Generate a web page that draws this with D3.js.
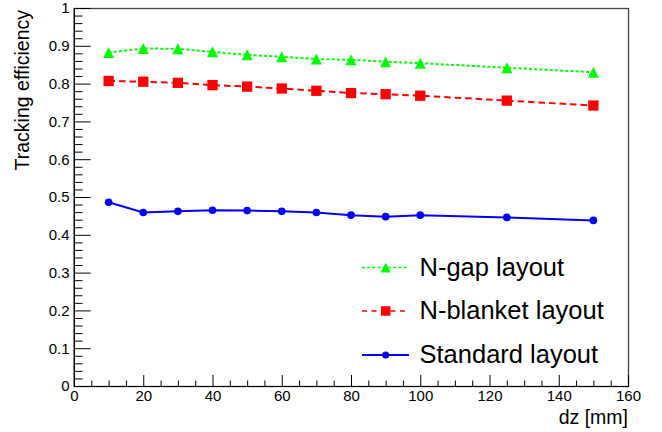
<!DOCTYPE html>
<html>
<head>
<meta charset="utf-8">
<script src="https://cdn.jsdelivr.net/npm/d3@7"></script>
<style>
  html, body { margin: 0; padding: 0; background: #fff; }
  svg { display: block; }
  text { font-family: "Liberation Sans", Arial, Helvetica, sans-serif; }
</style>
</head>
<body>
<svg id="chart" width="662" height="432"></svg>
<script>
// ---------- data ----------
const dz = [10, 20, 30, 40, 50, 60, 70, 80, 90, 100, 125, 150];
const nGap = [0.882, 0.893, 0.892, 0.884, 0.876, 0.871, 0.865, 0.863, 0.858, 0.854, 0.842, 0.830];
const nBlanket = [0.807, 0.805, 0.802, 0.796, 0.792, 0.787, 0.781, 0.775, 0.772, 0.768, 0.755, 0.742];
const standard = [0.486, 0.459, 0.462, 0.465, 0.464, 0.462, 0.459, 0.452, 0.448, 0.452, 0.446, 0.438];
const xTicks = [0, 20, 40, 60, 80, 100, 120, 140, 160];
const yTicks = [0, 0.1, 0.2, 0.3, 0.4, 0.5, 0.6, 0.7, 0.8, 0.9, 1];
const seriesNames = ["N-gap layout", "N-blanket layout", "Standard layout"];
const xTitle = "dz [mm]";
const yTitle = "Tracking efficiency";

// ---------- layout ----------
const L = 74, R = 628, T = 8, B = 386;
const svg = d3.select("#chart");
const x = d3.scaleLinear().domain([0, 160]).range([L, R]);
const y = d3.scaleLinear().domain([0, 1]).range([B, T]);

// frame (top/right)
svg.append("rect").attr("x", L).attr("y", T + 0.5).attr("width", R - L + 0.5).attr("height", B - T)
  .attr("fill", "none").attr("stroke", "#444").attr("stroke-width", 1.3);

// minor ticks
const xMinor = d3.range(0, 161, 5).filter(v => v % 20 !== 0);
const yMinor = d3.range(0, 51, 1).map(v => v / 50).filter((v, i) => i % 5 !== 0);

svg.append("g").attr("transform", `translate(0,${B})`)
  .call(d3.axisBottom(x).tickValues(xMinor).tickFormat("").tickSizeInner(-5.5).tickSizeOuter(0))
  .call(g => g.select(".domain").remove());
svg.append("g").attr("transform", `translate(${L},0)`)
  .call(d3.axisLeft(y).tickValues(yMinor).tickFormat("").tickSizeInner(-8.5).tickSizeOuter(0))
  .call(g => g.select(".domain").remove());

// major axes
const xAxis = svg.append("g").attr("transform", `translate(0,${B})`)
  .call(d3.axisBottom(x).tickValues(xTicks).tickFormat(d3.format("d")).tickSizeInner(-11).tickSizeOuter(0).tickPadding(4.5));
const yAxis = svg.append("g").attr("transform", `translate(${L},0)`)
  .call(d3.axisLeft(y).tickValues(yTicks).tickFormat(d => d === 0 ? "0" : d === 1 ? "1" : d3.format(".1f")(d)).tickSizeInner(-16.6).tickSizeOuter(0).tickPadding(4.5));
[xAxis, yAxis].forEach(g => {
  g.attr("font-family", null);
  g.selectAll("text").attr("font-size", 15).attr("fill", "#000");
  g.selectAll("line").attr("stroke", "#000");
  g.select(".domain").attr("stroke", "#000");
});

// titles
svg.append("text").attr("x", R).attr("y", 424).attr("text-anchor", "end")
  .attr("font-size", 19.5).text(xTitle);
svg.append("text").attr("transform", `translate(29,${T + 2}) rotate(-90)`).attr("text-anchor", "end")
  .attr("font-size", 19.5).text(yTitle);

// ---------- series ----------
// isosceles triangle with equal base and height (ROOT style)
const rootTriangle = {
  draw(ctx, size) {
    const s = Math.sqrt(size), h = s / 2;
    ctx.moveTo(0, -h);
    ctx.lineTo(h, h);
    ctx.lineTo(-h, h);
    ctx.closePath();
  }
};

const series = [
  { name: seriesNames[0], vals: nGap, color: "#00ff00", dash: "3,2.2", sym: rootTriangle, size: 121, ldash: "3,2.2" },
  { name: seriesNames[1], vals: nBlanket, color: "#ff0000", dash: "6.5,4", sym: d3.symbolSquare, size: 106, ldash: "5,4.5" },
  { name: seriesNames[2], vals: standard, color: "#0000ff", dash: null, sym: d3.symbolCircle, size: 46, ldash: null }
];

const line = d3.line().x(d => x(d[0])).y(d => y(d[1]));
series.forEach(s => {
  const pts = dz.map((d, i) => [d, s.vals[i]]);
  svg.append("path").datum(pts).attr("d", line).attr("fill", "none")
    .attr("stroke", s.color).attr("stroke-width", 2).attr("stroke-dasharray", s.dash);
  svg.append("g").selectAll("path").data(pts).join("path")
    .attr("transform", d => `translate(${x(d[0])},${y(d[1])})`)
    .attr("d", d3.symbol().type(s.sym).size(s.size)).attr("fill", s.color);
});

// ---------- legend ----------
const legY = [267.5, 311, 355];
const legBase = [276, 318.5, 362.5];
series.forEach((s, i) => {
  const g = svg.append("g");
  g.append("line").attr("x1", 362).attr("x2", 409).attr("y1", legY[i]).attr("y2", legY[i])
    .attr("stroke", s.color).attr("stroke-width", s.dash ? 1.5 : 2).attr("stroke-dasharray", s.ldash);
  g.append("path").attr("transform", `translate(385.7,${legY[i]})`)
    .attr("d", d3.symbol().type(s.sym).size(s.size * 0.85)).attr("fill", s.color);
  g.append("text").attr("x", 419.5).attr("y", legBase[i]).attr("font-size", 25.5).text(s.name);
});
</script>
</body>
</html>
